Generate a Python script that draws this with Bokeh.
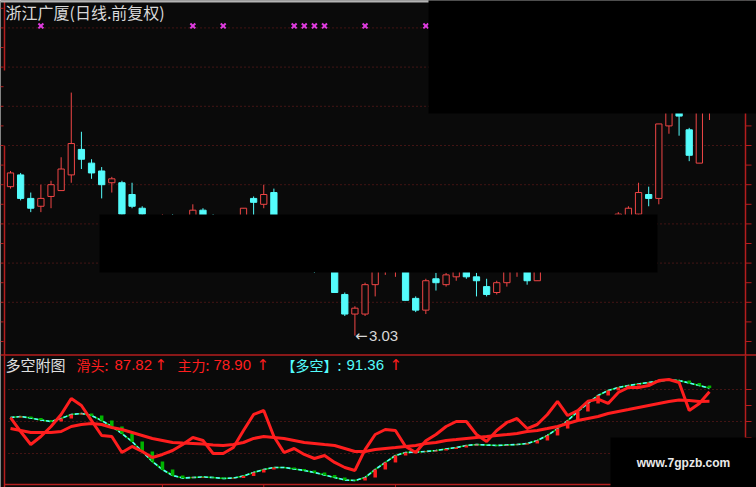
import numpy as np
from bokeh.plotting import figure
from bokeh.models import Range1d
from bokeh.core.properties import value
from bokeh.embed import file_html
from bokeh.resources import INLINE

# ---------------- data ----------------
stock_title = "浙江广厦(日线.前复权)"

opens = [3.79, 3.85, 3.73, 3.69, 3.74, 3.77, 3.85, 3.98, 3.91, 3.87,
         3.81, 3.81, 3.75, 3.68, 3.62, 3.57, 3.60, 3.58, 3.60, 3.67,
         3.62, 3.60, 3.62, 3.62, 3.73, 3.70, 3.76, 3.60, 3.54, 3.50,
         3.45, 3.38, 3.40, 3.24, 3.14, 3.14, 3.29, 3.40, 3.42, 3.45,
         3.22, 3.16, 3.32, 3.29, 3.33, 3.38, 3.33, 3.28, 3.25, 3.30,
         3.37, 3.40, 3.31, 3.38, 3.41, 3.46, 3.44, 3.49, 3.52, 3.56,
         3.64, 3.64, 3.65, 3.75, 3.73, 4.10, 4.19, 4.08, 3.91, 4.22]
highs = [3.87, 3.86, 3.76, 3.80, 3.82, 3.94, 4.27, 4.07, 3.93, 3.89,
         3.84, 3.82, 3.81, 3.69, 3.64, 3.65, 3.65, 3.63, 3.70, 3.68,
         3.65, 3.64, 3.64, 3.68, 3.74, 3.80, 3.78, 3.63, 3.58, 3.53,
         3.47, 3.42, 3.41, 3.25, 3.18, 3.30, 3.43, 3.44, 3.47, 3.46,
         3.23, 3.32, 3.35, 3.35, 3.40, 3.40, 3.35, 3.32, 3.31, 3.40,
         3.42, 3.41, 3.41, 3.42, 3.47, 3.48, 3.50, 3.54, 3.57, 3.62,
         3.66, 3.69, 3.81, 3.79, 4.11, 4.22, 4.22, 4.09, 4.28, 4.30]
lows = [3.78, 3.72, 3.66, 3.66, 3.68, 3.77, 3.81, 3.88, 3.83, 3.73,
        3.76, 3.64, 3.68, 3.63, 3.55, 3.53, 3.55, 3.54, 3.58, 3.60,
        3.57, 3.56, 3.58, 3.60, 3.62, 3.68, 3.58, 3.52, 3.48, 3.42,
        3.35, 3.36, 3.25, 3.13, 3.03, 3.13, 3.23, 3.34, 3.33, 3.21,
        3.15, 3.14, 3.26, 3.28, 3.31, 3.32, 3.23, 3.23, 3.24, 3.28,
        3.33, 3.29, 3.31, 3.37, 3.40, 3.42, 3.43, 3.47, 3.50, 3.55,
        3.60, 3.62, 3.63, 3.69, 3.70, 4.06, 4.05, 3.92, 3.91, 4.13]
closes = [3.86, 3.73, 3.68, 3.73, 3.80, 3.88, 4.01, 3.93, 3.86, 3.80,
          3.83, 3.65, 3.69, 3.65, 3.57, 3.60, 3.58, 3.61, 3.67, 3.62,
          3.60, 3.62, 3.63, 3.68, 3.71, 3.75, 3.60, 3.54, 3.50, 3.45,
          3.38, 3.40, 3.25, 3.14, 3.17, 3.29, 3.40, 3.42, 3.45, 3.21,
          3.16, 3.31, 3.30, 3.34, 3.38, 3.33, 3.31, 3.24, 3.30, 3.38,
          3.40, 3.31, 3.38, 3.41, 3.46, 3.44, 3.49, 3.52, 3.56, 3.60,
          3.65, 3.68, 3.76, 3.73, 4.11, 4.20, 4.15, 3.95, 4.25, 4.28]

# bars on which the signal line fires (plotted at a fixed level)
signal_idx = [3, 18, 21, 28, 29, 30, 31, 35, 41]
signal_level = 4.61

# 多空附图 indicator lines
hua_tou = [63.7, 50.6, 38.4, 45.9, 55.3, 66.6, 81.6, 75.0, 60.9, 46.9,
           45.9, 30.9, 36.6, 31.9, 26.2, 29.1, 32.8, 38.4, 45.0, 42.2,
           30.0, 30.0, 35.6, 51.6, 66.6, 70.3, 45.9, 30.9, 34.7, 29.1,
           25.3, 28.1, 21.6, 16.9, 14.1, 33.7, 47.8, 52.5, 51.6, 36.6,
           30.9, 42.0, 47.8, 55.3, 60.0, 60.0, 47.8, 41.2, 51.6, 59.1,
           62.8, 53.4, 57.2, 66.6, 78.8, 65.6, 70.3, 79.0, 81.0, 76.9,
           87.2, 91.9, 91.9, 93.7, 98.4, 99.4, 96.6, 70.3, 76.9, 87.82]
zhu_li = [53.4, 51.6, 49.7, 49.7, 49.7, 50.6, 55.3, 57.2, 58.1, 57.2,
          54.4, 52.5, 49.7, 46.9, 44.1, 42.2, 40.3, 39.8, 39.4, 38.9,
          38.0, 37.5, 38.4, 40.3, 44.1, 45.9, 45.0, 44.1, 42.2, 40.3,
          39.4, 38.4, 37.5, 34.7, 31.9, 31.9, 33.7, 34.7, 35.6, 36.6,
          37.5, 39.4, 40.3, 42.2, 43.1, 44.1, 45.0, 45.9, 46.9, 47.8,
          48.8, 50.6, 51.6, 53.4, 55.3, 58.1, 60.9, 62.8, 64.7, 67.5,
          69.4, 71.2, 73.1, 75.0, 76.9, 78.8, 80.2, 79.7, 78.8, 78.90]
duo_kong = [63.7, 64.7, 63.3, 61.4, 60.0, 62.8, 66.6, 67.5, 65.6, 60.9,
            55.3, 48.8, 41.2, 31.9, 22.5, 15.0, 9.4, 7.0, 7.5, 8.0,
            7.5, 6.6, 7.0, 8.9, 12.2, 15.0, 16.9, 16.9, 15.5, 14.1,
            12.2, 9.8, 7.5, 5.2, 4.7, 7.5, 15.0, 21.6, 28.1, 30.9,
            31.4, 31.9, 32.8, 34.2, 35.6, 37.5, 38.4, 38.0, 37.5, 38.0,
            38.4, 39.4, 42.2, 46.9, 53.4, 60.9, 69.4, 76.9, 84.4, 89.1,
            91.9, 93.7, 95.2, 96.6, 98.0, 98.9, 98.4, 96.1, 93.7, 91.36]

month_start_idx = [15, 25, 38]
price_grid = [3.2, 3.4, 3.6, 3.8, 4.0, 4.2, 4.4, 4.6]
price_ticks = [3.0, 3.1, 3.2, 3.3, 3.4, 3.5, 3.6, 3.7, 3.8, 3.9,
               4.0, 4.1, 4.2, 4.3, 4.4, 4.5, 4.6, 4.7]
sub_grid = [30, 60, 90]
sub_ticks = [15, 30, 45, 60, 75, 90]

# ---------------- styling ----------------
BG = "#0A0A0A"
RED = "#F04646"
CYAN = "#54FCFC"
LINE_RED = "#FF1E1E"
GREEN = "#00B400"
FRAME = "#B41E1E"
GRID = "#7A1E1E"
MAGENTA = "#E03CE0"
CJK = value("Noto Sans CJK SC")
LATIN = value("Liberation Sans")
ARROW = value("DejaVu Sans")

W, H = 756, 487

# screen layout: bar pitch and the two vertical scales
BAR0_PX, BAR_STEP_PX = 10.0, 10.13
PRICE_REF, PRICE_REF_PX, PX_PER_YUAN = 3.0, 341.0, 196.0
SUB_ZERO_PX, SUB_PX_PER_UNIT = 485.0, 32.0 / 30.0


def xpx(px):
    return (px - BAR0_PX) / BAR_STEP_PX


def ppx(py):
    return PRICE_REF + (PRICE_REF_PX - py) / PX_PER_YUAN


def spx(py):
    return (SUB_ZERO_PX - py) / SUB_PX_PER_UNIT


p = figure(width=W, height=H, output_backend="svg", toolbar_location=None,
           x_range=Range1d(xpx(0), xpx(W)), y_range=Range1d(ppx(H), ppx(0)),
           x_axis_type=None, y_axis_type=None, min_border=0)
p.extra_y_ranges = {"sub": Range1d(spx(H), spx(0))}
p.outline_line_color = None
p.background_fill_color = BG
p.border_fill_color = BG

# ---- main panel: grid ----
p.segment(x0=xpx(8), x1=xpx(744), y0=price_grid, y1=price_grid,
          line_color=GRID, line_width=1, line_dash="1 3")

# ---- candlesticks ----
idx = np.arange(len(opens))
o, h, l, c = (np.array(a) for a in (opens, highs, lows, closes))
up = c >= o
dn = ~up
p.segment(idx[dn], h[dn], idx[dn], l[dn], line_color=CYAN, line_width=1)
p.vbar(x=idx[dn], top=o[dn], bottom=c[dn], width=0.62,
       fill_color=CYAN, line_color=CYAN, line_width=1)
p.segment(idx[up], h[up], idx[up], l[up], line_color=RED, line_width=1)
p.vbar(x=idx[up], top=c[up], bottom=o[up], width=0.62,
       fill_color=BG, line_color=RED, line_width=1)

# signal markers
p.scatter(signal_idx, [signal_level] * len(signal_idx), marker="x", size=7,
          line_color=MAGENTA, line_width=2)

# lowest low annotation
k = int(np.argmin(l))
p.text(x=[k], y=[l[k]], text=["←"], x_offset=0, text_baseline="middle",
       text_align="left", text_color="#D8D8D8", text_font_size="15px",
       text_font=ARROW)
p.text(x=[k], y=[l[k]], text=[f"{l[k]:.2f}"], x_offset=14, text_baseline="middle",
       text_align="left", text_color="#D8D8D8", text_font_size="15px",
       text_font=LATIN)

# title
p.text(x=[xpx(5)], y=[ppx(11)], text=[stock_title], text_baseline="middle",
       text_color="#D8D8D8", text_font_size="16px", text_font=CJK)

# ---- frame: separator, side axes ----
p.segment(x0=[xpx(0)], x1=[xpx(W)], y0=[ppx(354.5)], y1=[ppx(354.5)],
          line_color=FRAME, line_width=1.5)
p.segment(x0=[xpx(745)], x1=[xpx(745)], y0=[ppx(0)], y1=[ppx(354.5)],
          line_color=FRAME, line_width=1.5)
p.segment(x0=xpx(745), x1=xpx(751), y0=price_ticks, y1=price_ticks,
          line_color=FRAME, line_width=1)
p.segment(x0=[xpx(4), xpx(4)], x1=[xpx(4), xpx(4)],
          y0=[ppx(0), ppx(145)], y1=[ppx(70), ppx(354.5)],
          line_color=FRAME, line_width=1.5)
p.segment(x0=xpx(0), x1=xpx(3), y0=price_ticks, y1=price_ticks,
          line_color=FRAME, line_width=1)

# ---- sub panel ----
SUB = dict(y_range_name="sub")
p.segment(x0=xpx(8), x1=xpx(744), y0=sub_grid, y1=sub_grid,
          line_color=GRID, line_width=1, line_dash="1 3", **SUB)
p.segment(x0=[xpx(745), xpx(4)], x1=[xpx(745), xpx(4)],
          y0=[spx(355), spx(355)], y1=[spx(H), spx(H)],
          line_color=FRAME, line_width=1.5, **SUB)
p.segment(x0=xpx(745), x1=xpx(751), y0=sub_ticks, y1=sub_ticks,
          line_color=FRAME, line_width=1, **SUB)
p.segment(x0=[xpx(4)], x1=[xpx(745)], y0=[spx(484)], y1=[spx(484)],
          line_color=FRAME, line_width=1.5, **SUB)
p.segment(x0=month_start_idx, x1=month_start_idx,
          y0=[spx(484)] * len(month_start_idx), y1=[spx(H)] * len(month_start_idx),
          line_color=FRAME, line_width=1, **SUB)

dk = np.array(duo_kong)
p.line(idx, dk, line_color=GREEN, line_width=1.6, **SUB)
p.line(idx, dk, line_color=CYAN, line_width=1.6, line_dash="4 2", **SUB)

# change sticks of 多空
d = np.diff(dk)
bi = idx[1:]
rise = d > 0
p.vbar(x=bi[rise], top=dk[1:][rise], bottom=dk[:-1][rise], width=0.35,
       fill_color=LINE_RED, line_color=None, **SUB)
p.vbar(x=bi[~rise], top=dk[:-1][~rise], bottom=dk[1:][~rise], width=0.35,
       fill_color=GREEN, line_color=None, **SUB)

p.line(idx, zhu_li, line_color=LINE_RED, line_width=3, **SUB)
p.line(idx, hua_tou, line_color=LINE_RED, line_width=3, **SUB)

# sub panel header
HY = spx(364)


def head(xp, text, color, size, font):
    p.text(x=[xpx(xp)], y=[HY], text=[text], text_baseline="middle",
           text_align="left", text_color=color, text_font_size=size,
           text_font=font, **SUB)


head(5, "多空附图", "#E0E0E0", "15px", CJK)
head(76, "滑头:", LINE_RED, "14px", CJK)
head(114, f"{hua_tou[-1]:.2f}", LINE_RED, "15px", LATIN)
head(154, "↑", LINE_RED, "15px", ARROW)
head(177, "主力:", LINE_RED, "14px", CJK)
head(213, f"{zhu_li[-1]:.2f}", LINE_RED, "15px", LATIN)
head(256, "↑", LINE_RED, "15px", ARROW)
head(281, "【多空】:", CYAN, "14px", CJK)
head(346, f"{duo_kong[-1]:.2f}", CYAN, "15px", LATIN)
head(389, "↑", LINE_RED, "15px", ARROW)

# ---- window edge and covering panels ----
p.quad(left=[xpx(0)], right=[xpx(W)], top=[ppx(0)], bottom=[ppx(2)],
       fill_color="#B4B4B4", line_color=None, level="overlay")
p.quad(left=[xpx(428), xpx(99), xpx(610)],
       right=[xpx(W), xpx(657), xpx(W)],
       top=[ppx(0), ppx(214), ppx(437)],
       bottom=[ppx(113), ppx(272), ppx(H)],
       fill_color="#000000", line_color=None, level="overlay")
p.text(x=[xpx(683)], y=[ppx(462)], text=["www.7gpzb.com"], text_align="center",
       text_baseline="middle", text_color="#EAEAEA", text_font_size="12px",
       text_font=LATIN, text_font_style="bold", level="overlay")

open("out.html", "w").write(file_html(p, INLINE))
